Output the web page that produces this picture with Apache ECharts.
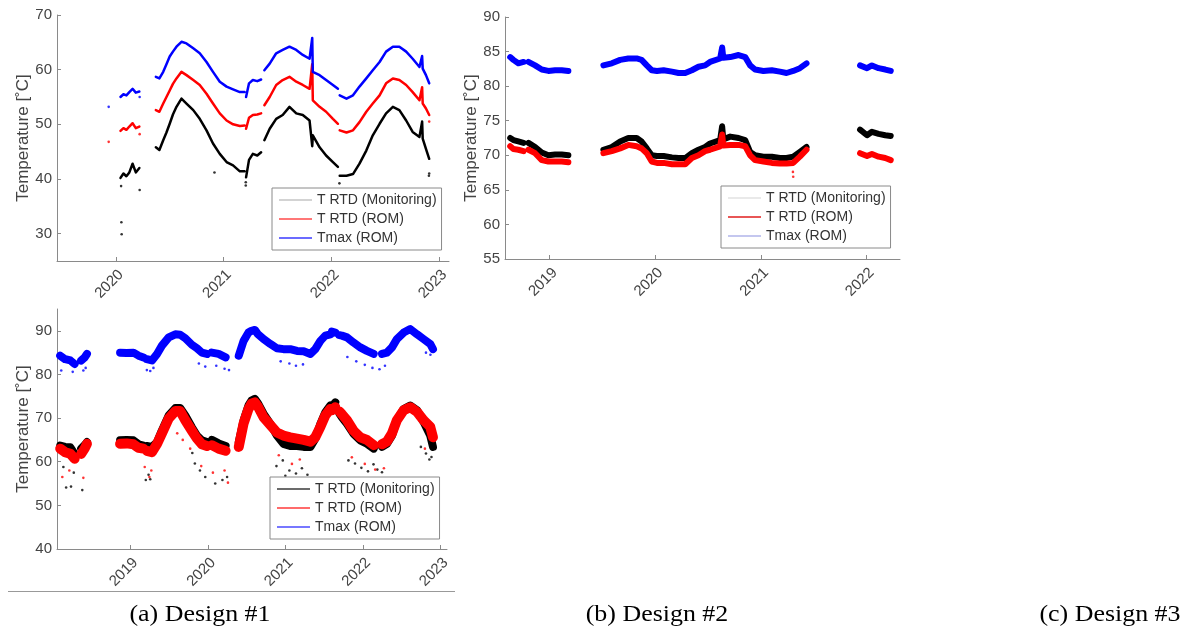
<!DOCTYPE html>
<html>
<head>
<meta charset="utf-8">
<script src="https://cdn.jsdelivr.net/npm/echarts@6/dist/echarts.min.js"></script>
<style>
  html, body { margin: 0; padding: 0; background: #fff; }
  #chart { width: 1186px; height: 632px; }
</style>
</head>
<body>
<div id="chart"></div>
<script>
// ---------- Design #1 ----------
const datesA = ['2020-01-17','2020-01-27','2020-02-06','2020-02-16','2020-02-27','2020-03-09','2020-03-21','2020-04-20',
  '2020-05-16','2020-05-28','2020-06-10','2020-06-21','2020-07-02','2020-07-13','2020-07-25','2020-08-11','2020-08-28','2020-09-20','2020-10-12','2020-11-04','2020-11-26','2020-12-19','2021-01-11','2021-02-02','2021-02-25','2021-03-13','2021-03-15',
  '2021-03-18','2021-03-28','2021-04-10','2021-04-25','2021-05-08','2021-05-13',
  '2021-05-19','2021-06-06','2021-06-28','2021-07-20','2021-08-12','2021-09-04','2021-09-26','2021-10-19','2021-10-28','2021-10-30','2021-11-22','2021-12-14','2022-01-06','2022-01-23','2022-01-26',
  '2022-01-29','2022-02-21','2022-03-15','2022-04-06','2022-04-29','2022-05-21','2022-06-13','2022-07-05','2022-07-28','2022-08-19','2022-09-11','2022-10-03','2022-10-26','2022-11-04','2022-11-06','2022-11-17','2022-11-28'];
const monA = [40.2,41.0,40.5,41.2,42.8,41.2,42.0,null,
  45.8,45.3,47.1,48.5,50.1,51.8,53.2,54.7,53.8,52.6,51.0,48.9,46.5,44.6,43.1,42.5,41.4,41.4,null,
  40.3,43.5,44.6,44.3,44.9,null,
  47.1,49.2,51.0,51.7,53.2,52.0,51.7,50.7,46.0,48.0,45.8,44.3,43.1,42.2,null,
  40.6,40.6,40.9,42.8,45.2,48.0,50.1,52.0,53.2,52.6,50.7,48.6,47.7,50.5,47.4,45.5,43.7];
const romA = [48.8,49.3,49.0,49.6,50.2,49.3,49.6,null,
  52.6,52.3,53.8,55.0,56.2,57.4,58.4,59.6,59.0,58.1,57.2,55.6,53.8,52.0,50.7,50.0,49.7,49.8,null,
  49.2,51.2,51.7,51.8,52.0,null,
  53.5,55.0,57.2,58.1,58.7,57.8,57.2,56.5,61.0,54.4,53.2,52.3,51.0,50.1,null,
  48.9,48.5,48.9,50.4,52.3,53.8,55.3,57.5,58.4,58.1,57.2,55.9,54.4,56.8,53.8,52.9,51.7];
const tmaxA = [55.0,55.5,55.3,55.9,56.5,55.8,56.0,null,
  58.7,58.4,59.6,61.0,62.4,63.3,64.2,65.1,64.8,63.9,63.0,61.4,59.6,57.8,56.9,56.4,55.9,55.9,null,
  55.0,57.5,58.1,57.9,58.2,null,
  59.9,61.1,63.0,63.6,64.2,63.6,62.7,62.0,65.8,59.6,59.0,58.1,57.2,56.5,null,
  55.3,54.7,55.3,56.9,58.4,59.9,61.4,63.3,64.2,64.2,63.3,62.0,60.5,62.5,60.2,59.0,57.5];
const dotsMonA = [['2020-01-20',32.1],['2020-01-21',29.9],['2020-01-19',38.7],['2020-03-22',38.0],['2020-12-01',41.2],
  ['2021-03-17',38.8],['2021-03-17',39.4],['2022-01-28',39.2],['2022-11-28',41.0],['2022-11-27',40.6]];
const dotsRomA = [['2019-12-08',46.8],['2020-03-22',48.2],['2022-11-28',50.5]];
const dotsTmaxA = [['2019-12-08',53.2],['2020-03-22',55.0]];
const rangeA = ['2019-06-16', '2023-02-03'];
const yearsA = [2020, 2021, 2022, 2023];
const yTicksA = [30, 40, 50, 60, 70];

// ---------- Design #2 ----------
const datesB = ['2018-08-18','2018-08-29','2018-09-15','2018-10-03','2018-10-08','2018-10-20','2018-11-12','2018-12-05','2018-12-28','2019-01-20','2019-02-12','2019-03-07','2019-05-01',
  '2019-07-06','2019-08-04','2019-09-02','2019-09-30','2019-10-29','2019-11-15','2019-12-03','2019-12-20','2020-01-07','2020-01-30','2020-02-28','2020-03-22','2020-04-14','2020-05-07','2020-05-30','2020-06-22','2020-07-09','2020-08-13','2020-08-20','2020-08-24','2020-09-17','2020-10-16','2020-11-08','2020-11-25','2020-12-12','2021-01-10','2021-02-08','2021-03-08','2021-03-31','2021-04-23','2021-05-16','2021-06-08','2021-08-01',
  '2021-12-10','2022-01-03','2022-01-20','2022-02-12','2022-03-07','2022-03-26'];
const monB = [72.5,72.2,72.0,71.8,null,71.8,71.2,70.4,70.0,70.1,70.1,70.0,null,
  70.8,71.2,72.0,72.5,72.5,72.0,71.0,70.0,69.9,69.9,69.7,69.6,69.6,70.3,70.8,71.2,71.7,72.2,74.2,72.3,72.7,72.5,72.2,70.5,70.0,69.8,69.8,69.6,69.6,69.8,70.5,71.2,null,
  73.7,72.9,73.4,73.1,72.9,72.8];
const romB = [71.3,70.9,70.8,70.6,null,70.8,70.3,69.3,69.1,69.1,69.1,69.0,null,
  70.3,70.6,71.0,71.5,71.3,71.0,70.3,69.1,68.9,68.9,68.7,68.7,68.7,69.6,70.0,70.6,70.8,71.3,73.0,71.4,71.5,71.5,71.3,70.0,69.3,69.1,68.9,68.8,68.8,68.9,69.8,70.8,null,
  70.3,69.9,70.2,69.8,69.6,69.3];
const tmaxB = [84.2,83.8,83.3,83.5,null,83.5,83.0,82.4,82.2,82.3,82.3,82.2,null,
  83.0,83.3,83.8,84.0,84.0,83.8,83.0,82.3,82.2,82.3,82.1,81.9,81.9,82.3,82.8,83.0,83.5,84.0,85.6,84.1,84.2,84.5,84.2,83.0,82.4,82.2,82.3,82.1,81.9,82.2,82.6,83.3,null,
  83.0,82.6,83.0,82.6,82.4,82.2];
const dotsRomB = [['2021-04-22',67.6],['2021-04-23',66.9]];
const rangeB = ['2018-07-31', '2022-04-27'];
const yearsB = [2019, 2020, 2021, 2022];
const yTicksB = [55, 60, 65, 70, 75, 80, 85, 90];

// ---------- Design #3 ----------
const datesC = ['2018-02-05','2018-02-28','2018-03-25','2018-04-14','2018-04-25','2018-05-15','2018-05-31','2018-06-11','2018-09-01',
  '2018-11-14','2018-12-15','2019-01-16','2019-02-09','2019-03-04','2019-03-08',
  '2019-03-20','2019-04-13','2019-05-07','2019-05-30','2019-07-01','2019-08-01','2019-08-24','2019-09-17','2019-10-18','2019-11-11','2019-12-04','2019-12-28','2020-01-05',
  '2020-01-20','2020-02-21','2020-03-25','2020-04-15',
  '2020-05-26','2020-06-18','2020-07-11','2020-07-25','2020-08-10','2020-08-25','2020-09-20','2020-10-22','2020-11-22','2020-12-23','2021-01-24','2021-02-25','2021-03-28','2021-04-29','2021-05-22','2021-06-15','2021-07-08','2021-08-01','2021-08-05',
  '2021-08-08','2021-08-24','2021-09-02',
  '2021-09-13','2021-09-24','2021-10-18','2021-11-18','2021-12-20','2022-01-20','2022-02-21','2022-03-05',
  '2022-04-01','2022-04-24','2022-05-18','2022-06-10','2022-07-12','2022-08-12','2022-09-13','2022-10-14','2022-11-14','2022-11-27'];
const monC = [63.7,63.4,63.3,61.8,null,63.0,63.8,64.5,null,
  64.9,65.0,64.9,64.0,63.7,null,
  63.6,63.4,64.5,67.2,70.6,72.3,72.3,70.6,67.9,66.0,64.9,64.5,null,
  65.0,64.2,63.6,null,
  64.5,69.5,72.9,74.0,74.4,73.4,71.0,68.7,66.0,64.1,63.6,63.6,63.4,63.4,65.3,68.7,71.3,72.9,null,
  72.5,73.6,null,
  71.0,70.2,68.7,66.4,64.9,64.1,63.0,null,
  63.4,64.1,66.0,69.5,72.1,72.9,71.8,69.1,66.0,63.4];
const romC = [63.0,62.2,61.8,60.7,null,61.8,63.0,64.1,null,
  64.1,64.2,64.0,63.2,63.0,null,
  62.5,62.2,64.1,66.5,69.9,71.6,71.6,69.5,67.1,65.3,64.0,63.6,null,
  63.8,63.0,62.5,null,
  63.4,68.8,72.1,73.3,73.6,72.6,70.2,68.4,66.7,66.0,65.6,65.3,65.0,64.6,65.6,68.0,70.6,72.1,null,
  71.8,72.5,null,
  71.5,70.9,69.5,67.1,65.6,65.0,63.8,null,
  64.0,64.6,66.5,69.5,71.8,72.5,71.4,69.5,68.0,65.6];
const tmaxC = [84.3,83.5,83.2,82.4,null,83.2,83.9,84.7,null,
  85.0,84.9,85.0,84.3,83.9,null,
  83.5,83.2,84.7,86.6,88.5,89.2,89.1,88.3,86.8,86.0,85.0,84.7,null,
  85.0,84.7,83.9,null,
  84.3,87.7,89.6,90.0,90.2,89.2,88.1,87.0,86.0,85.8,85.8,85.4,85.3,84.7,85.8,87.7,88.9,89.2,null,
  89.8,89.6,null,
  89.0,88.9,88.5,87.3,86.2,85.4,84.7,null,
  84.7,85.0,86.2,88.1,89.6,90.4,89.2,88.1,87.0,85.8];
const dotsMonC = [['2018-03-05',54.1],['2018-03-28',54.3],['2018-05-20',53.5],['2018-04-10',57.5],['2018-02-20',58.8],
  ['2019-03-15',55.8],['2019-03-28',57.0],['2019-04-05',56.0],
  ['2019-11-01',59.6],['2019-11-25',58.0],['2019-12-20',56.5],['2020-02-05',55.0],['2020-03-10',55.8],['2020-04-01',56.5],['2019-10-20',62.0],
  ['2020-11-20',59.0],['2020-12-20',60.3],['2021-01-20',58.0],['2021-02-20',57.3],['2021-03-20',58.5],['2021-04-15',57.0],['2021-01-01',56.8],
  ['2021-10-25',60.3],['2021-11-25',59.6],['2021-12-25',58.6],['2022-01-25',57.8],['2022-02-20',59.4],['2022-04-01',57.6],['2022-03-10',58.2],
  ['2022-10-01',63.4],['2022-10-25',61.9],['2022-11-20',61.1],['2022-11-10',60.5]];
const dotsRomC = [['2018-02-15',56.5],['2018-05-25',56.3],['2018-03-20',58.0],['2019-03-10',58.8],['2019-04-01',56.5],['2019-04-10',58.0],
  ['2019-10-10',63.0],['2019-12-01',59.0],['2020-01-25',57.5],['2020-03-20',58.0],['2020-04-05',55.2],['2020-12-01',61.5],
  ['2021-02-01',59.5],['2021-03-10',60.5],['2021-11-10',61.0],['2022-01-10',59.5],['2022-02-28',58.2],['2022-04-10',58.5],['2022-10-20',63.0],
  ['2019-08-10',66.5],['2019-09-05',65.0]];
const dotsTmaxC = [['2018-02-10',80.9],['2018-04-05',80.6],['2018-05-25',80.9],['2018-06-05',81.5],['2019-03-20',81.0],['2019-04-05',80.8],
  ['2019-04-20',81.5],['2019-11-20',82.5],['2019-12-20',81.8],['2020-02-10',82.0],['2020-03-20',81.3],['2020-04-10',81.0],
  ['2020-12-10',83.0],['2021-01-20',82.5],['2021-02-20',82.0],['2021-03-25',82.3],['2021-10-20',84.0],['2021-12-01',83.0],
  ['2022-01-10',82.2],['2022-02-15',81.5],['2022-03-20',81.2],['2022-04-15',82.0],['2022-10-25',85.0],['2022-11-15',84.5]];
const rangeC = ['2018-01-21', '2023-02-01'];
const yearsC = [2019, 2020, 2021, 2022, 2023];
const yTicksC = [40, 50, 60, 70, 80, 90];

const NAMES = ['T RTD (Monitoring)', 'T RTD (ROM)', 'Tmax (ROM)'];
const FONT = '"Liberation Sans", Arial, sans-serif';
const SERIF = '"Liberation Serif", "Times New Roman", serif';

// Dates are placed on a continuous year scale (e.g. 2020-07-02 -> 2020.50)
function yearPos(s) {
  const [y, m, d] = s.split('-').map(Number);
  const start = Date.UTC(y, 0, 1), end = Date.UTC(y + 1, 0, 1);
  return y + (Date.UTC(y, m - 1, d) - start) / (end - start);
}
const pairs = (dates, vals) => dates.map((d, i) => [yearPos(d), vals[i]]);
const dots = pts => pts.map(p => [yearPos(p[0]), p[1]]);

function xAxisFor(idx, range, years) {
  return {
    type: 'value', gridIndex: idx, min: yearPos(range[0]), max: yearPos(range[1]),
    axisLine: { lineStyle: { color: '#8a8a8a', width: 1 } },
    axisTick: { inside: true, length: 4, customValues: years, lineStyle: { color: '#8a8a8a' } },
    axisLabel: {
      customValues: years, rotate: 45, margin: 6, color: '#444', fontSize: 15, fontFamily: FONT,
      align: 'right', verticalAlign: 'top',
      formatter: v => String(Math.round(v))
    },
    splitLine: { show: false }
  };
}
function yAxisFor(idx, min, max, ticks) {
  return {
    type: 'value', gridIndex: idx, min: min, max: max,
    name: 'Temperature [˚C]', nameLocation: 'middle', nameGap: 25,
    nameTextStyle: { color: '#444', fontSize: 17, fontFamily: FONT },
    axisLine: { show: true, lineStyle: { color: '#8a8a8a', width: 1 } },
    axisTick: { show: true, inside: true, length: 4, customValues: ticks, lineStyle: { color: '#8a8a8a' } },
    axisLabel: { customValues: ticks, margin: 5, color: '#444', fontSize: 15, fontFamily: FONT },
    splitLine: { show: false }
  };
}
function lineSeries(idx, name, dates, vals, color, width, z) {
  return {
    type: 'line', name: name, xAxisIndex: idx, yAxisIndex: idx,
    data: pairs(dates, vals), showSymbol: false, connectNulls: false,
    lineStyle: { color: color, width: width, join: 'round', cap: 'round' },
    itemStyle: { color: color }, z: z, silent: true
  };
}
function dotSeries(idx, name, pts, color) {
  return {
    type: 'scatter', name: name, xAxisIndex: idx, yAxisIndex: idx,
    data: dots(pts), symbolSize: 2.6, itemStyle: { color: color }, silent: true, z: 1
  };
}
function legendFor(left, top, colors) {
  return {
    orient: 'vertical', left: left, top: top, padding: [5, 5, 5, 7],
    backgroundColor: '#fff', borderColor: '#8a8a8a', borderWidth: 1,
    itemWidth: 33, itemHeight: 1.6, itemGap: 5, icon: 'rect', selectedMode: false,
    textStyle: { color: '#333', fontSize: 14, fontFamily: FONT, lineHeight: 14 },
    data: NAMES.map((n, i) => ({ name: n, itemStyle: { color: colors[i] } }))
  };
}
function caption(x, text) {
  return {
    type: 'text', x: x, y: 615, scaleX: 1.08, silent: true,
    style: { text: text, font: '24px ' + SERIF, fill: '#000', textAlign: 'center', textVerticalAlign: 'middle' }
  };
}

const option = {
  animation: false,
  backgroundColor: '#fff',
  grid: [
    { left: 57, top: 15, width: 392, height: 246 },
    { left: 505, top: 17, width: 395, height: 242 },
    { left: 57, top: 309, width: 390, height: 240 }
  ],
  xAxis: [
    xAxisFor(0, rangeA, yearsA),
    xAxisFor(1, rangeB, yearsB),
    xAxisFor(2, rangeC, yearsC)
  ],
  yAxis: [
    yAxisFor(0, 25, 70, yTicksA),
    yAxisFor(1, 55, 90, yTicksB),
    yAxisFor(2, 40, 95, yTicksC)
  ],
  legend: [
    legendFor(272, 188, ['#c4c4c4', '#ff4a4a', '#3a3aff']),
    legendFor(721, 186, ['#e2e2e2', '#e01e1e', '#b0b4ea']),
    legendFor(270, 477, ['#3a3a3a', '#ff3a3a', '#4a4aff'])
  ],
  series: [
    dotSeries(0, 'a-dots-mon', dotsMonA, '#000'),
    dotSeries(0, 'a-dots-rom', dotsRomA, '#ff0000'),
    dotSeries(0, 'a-dots-tmax', dotsTmaxA, '#0000ff'),
    lineSeries(0, NAMES[0], datesA, monA, '#000000', 2.5, 2),
    lineSeries(0, NAMES[1], datesA, romA, '#ff0000', 2.5, 3),
    lineSeries(0, NAMES[2], datesA, tmaxA, '#0000ff', 2.5, 4),

    dotSeries(1, 'b-dots-rom', dotsRomB, '#ff0000'),
    lineSeries(1, NAMES[0], datesB, monB, '#000000', 6, 2),
    lineSeries(1, NAMES[1], datesB, romB, '#ff0000', 6, 3),
    lineSeries(1, NAMES[2], datesB, tmaxB, '#0000ff', 6, 4),

    dotSeries(2, 'c-dots-mon', dotsMonC, '#000'),
    dotSeries(2, 'c-dots-rom', dotsRomC, '#ff0000'),
    dotSeries(2, 'c-dots-tmax', dotsTmaxC, '#0000ff'),
    lineSeries(2, NAMES[0], datesC, monC, '#000000', 8, 2),
    lineSeries(2, NAMES[1], datesC, romC, '#ff0000', 10, 3),
    lineSeries(2, NAMES[2], datesC, tmaxC, '#0000ff', 8, 4)
  ],
  graphic: [
    { type: 'line', shape: { x1: 8, y1: 591.5, x2: 455, y2: 591.5 }, style: { stroke: '#999', lineWidth: 1 }, silent: true },
    caption(200, '(a) Design #1'),
    caption(657, '(b) Design #2'),
    caption(1110, '(c) Design #3')
  ]
};

const chart = echarts.init(document.getElementById('chart'), null, { renderer: 'canvas' });
chart.setOption(option);
</script>
</body>
</html>
